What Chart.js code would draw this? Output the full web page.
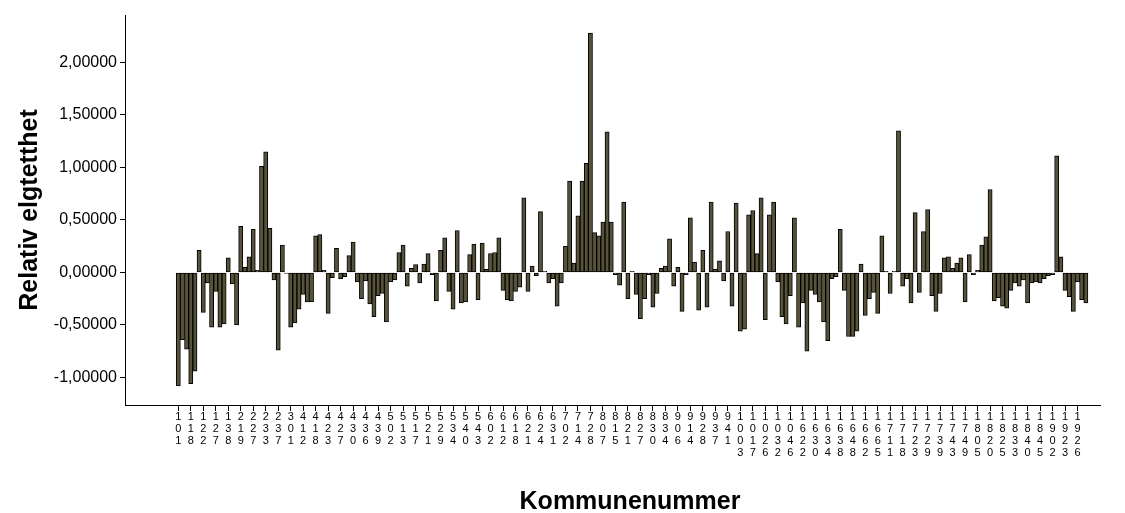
<!DOCTYPE html>
<html>
<head>
<meta charset="utf-8">
<script src="https://cdn.jsdelivr.net/npm/chart.js@4.4.0/dist/chart.umd.min.js"></script>
<style>
  html, body { margin: 0; padding: 0; background: #fff; }
  #wrap { width: 1125px; height: 513px; }
</style>
</head>
<body>
<div id="wrap"><canvas id="chart1" width="1125" height="513"></canvas></div>
<script>
// kommunenummer shown under every third bar
const tickLabels = [
  101, 118, 122, 127, 138, 219, 227, 233, 237, 301, 412, 418, 423, 427, 430, 436, 439, 502, 513,
  517, 521, 529, 534, 540, 543, 602, 612, 618, 621, 624, 631, 702, 714, 728, 807, 815, 821,
  827, 830, 834, 906, 914, 928, 937, 941, 1003, 1017, 1026, 1032, 1046,
  1622, 1630, 1634, 1638, 1648, 1662, 1665, 1711, 1718, 1723, 1729, 1739, 1743, 1749,
  1805, 1820, 1825, 1833, 1840, 1845, 1902, 1923, 1926,
];
const labelStep = 3;

// relativ elgtetthet per kommune, in bar order
const values = [
  -1.08, -0.64, -0.73, -1.06, -0.94, 0.21, -0.38, -0.10, -0.52, -0.18,
  -0.52, -0.49, 0.14, -0.11, -0.50, 0.44, 0.05, 0.15, 0.41, 0.02,
  1.01, 1.15, 0.42, -0.07, -0.74, 0.26, -0.01, -0.52, -0.48, -0.35,
  -0.21, -0.28, -0.28, 0.35, 0.36, 0.02, -0.39, -0.05, 0.23, -0.06,
  -0.04, 0.16, 0.29, -0.09, -0.25, -0.08, -0.30, -0.42, -0.22, -0.20,
  -0.47, -0.09, -0.07, 0.19, 0.26, -0.13, 0.04, 0.075, -0.10, 0.08,
  0.18, -0.02, -0.27, 0.21, 0.33, -0.18, -0.35, 0.40, -0.29, -0.28,
  0.17, 0.27, -0.26, 0.28, 0.03, 0.18, 0.19, 0.33, -0.17, -0.26,
  -0.27, -0.18, -0.14, 0.71, -0.18, 0.06, -0.03, 0.58, 0.01, -0.10,
  -0.06, -0.32, -0.10, 0.25, 0.87, 0.09, 0.54, 0.87, 1.04, 2.28,
  0.38, 0.35, 0.48, 1.34, 0.48, -0.02, -0.12, 0.67, -0.25, 0.01,
  -0.21, -0.44, -0.25, -0.02, -0.33, -0.20, 0.04, 0.06, 0.32, -0.13,
  0.05, -0.37, -0.02, 0.52, 0.10, -0.36, 0.21, -0.33, 0.67, 0.03,
  0.11, -0.08, 0.39, -0.32, 0.66, -0.56, -0.54, 0.55, 0.59, 0.18,
  0.71, -0.45, 0.55, 0.67, -0.09, -0.42, -0.49, -0.22, 0.52, -0.52,
  -0.29, -0.75, -0.17, -0.21, -0.28, -0.47, -0.65, -0.06, -0.04, 0.41,
  -0.17, -0.61, -0.61, -0.56, 0.08, -0.41, -0.25, -0.19, -0.39, 0.35,
  0.01, -0.20, 0.01, 1.35, -0.13, -0.06, -0.29, 0.57, -0.19, 0.39,
  0.60, -0.22, -0.37, -0.20, 0.14, 0.15, 0.04, 0.09, 0.14, -0.28,
  0.17, -0.02, 0.02, 0.26, 0.34, 0.79, -0.27, -0.24, -0.32, -0.34,
  -0.17, -0.10, -0.13, -0.07, -0.29, -0.10, -0.09, -0.10, -0.06, -0.03,
  -0.02, 1.11, 0.15, -0.17, -0.23, -0.37, -0.09, -0.26, -0.29,
];

const yTicks = [-1, -0.5, 0, 0.5, 1, 1.5, 2];

const fontFamily = 'Arial, "Liberation Sans", sans-serif';
const points = values.map((v, i) => ({ x: i, y: v }));

// x title sits a little right of the plot centre in the original
const xTitlePlugin = {
  id: 'xTitle',
  afterDraw(chart) {
    const c = chart.ctx;
    c.save();
    c.font = `bold 25px ${fontFamily}`;
    c.fillStyle = '#000';
    c.textAlign = 'center';
    c.textBaseline = 'middle';
    c.fillText('Kommunenummer', 630, 502);
    c.restore();
  },
};

const ctx = document.getElementById('chart1').getContext('2d');
const chart1 = new Chart(ctx, {
  type: 'bar',
  data: {
    datasets: [{
      data: points,
      backgroundColor: '#57533a',
      borderColor: '#000000',
      borderWidth: 1,
      borderSkipped: false,
      barPercentage: 1,
      categoryPercentage: 1,
    }],
  },
  options: {
    responsive: false,
    animation: false,
    layout: { padding: { top: 15, right: 25, left: 0, bottom: 0 } },
    plugins: {
      legend: { display: false },
      tooltip: { enabled: false },
    },
    scales: {
      x: {
        type: 'linear',
        min: -12.8,
        max: 221.4,
        offset: false,
        grid: { offset: false, drawOnChartArea: false, drawTicks: true, tickLength: 6, color: '#000' },
        border: { color: '#000', width: 1 },
        afterBuildTicks(scale) {
          scale.ticks = tickLabels.map((k, j) => ({ value: j * labelStep }));
        },
        afterFit(scale) {
          scale.height = 108;
        },
        ticks: {
          autoSkip: false,
          maxRotation: 0,
          minRotation: 0,
          padding: 0,
          color: '#000',
          font: { family: fontFamily, size: 11, lineHeight: 1.1 },
          callback(value, index) {
            return String(tickLabels[index]).split('');
          },
        },
      },
      y: {
        min: -1.262,
        max: 2.452,
        grid: { drawOnChartArea: false, drawTicks: true, tickLength: 5, color: '#000' },
        border: { color: '#000', width: 1 },
        afterBuildTicks(scale) {
          scale.ticks = yTicks.map(v => ({ value: v }));
        },
        afterFit(scale) {
          scale.width = 125;
        },
        ticks: {
          padding: 3,
          color: '#000',
          font: { family: fontFamily, size: 16 },
          callback: v => v.toFixed(5).replace('.', ','),
        },
        title: {
          display: true,
          text: 'Relativ elgtetthet',
          color: '#000',
          padding: { top: 18, bottom: 0 },
          font: { family: fontFamily, size: 25, weight: 'bold', lineHeight: 1 },
        },
      },
    },
  },
  plugins: [xTitlePlugin],
});
</script>
</body>
</html>
